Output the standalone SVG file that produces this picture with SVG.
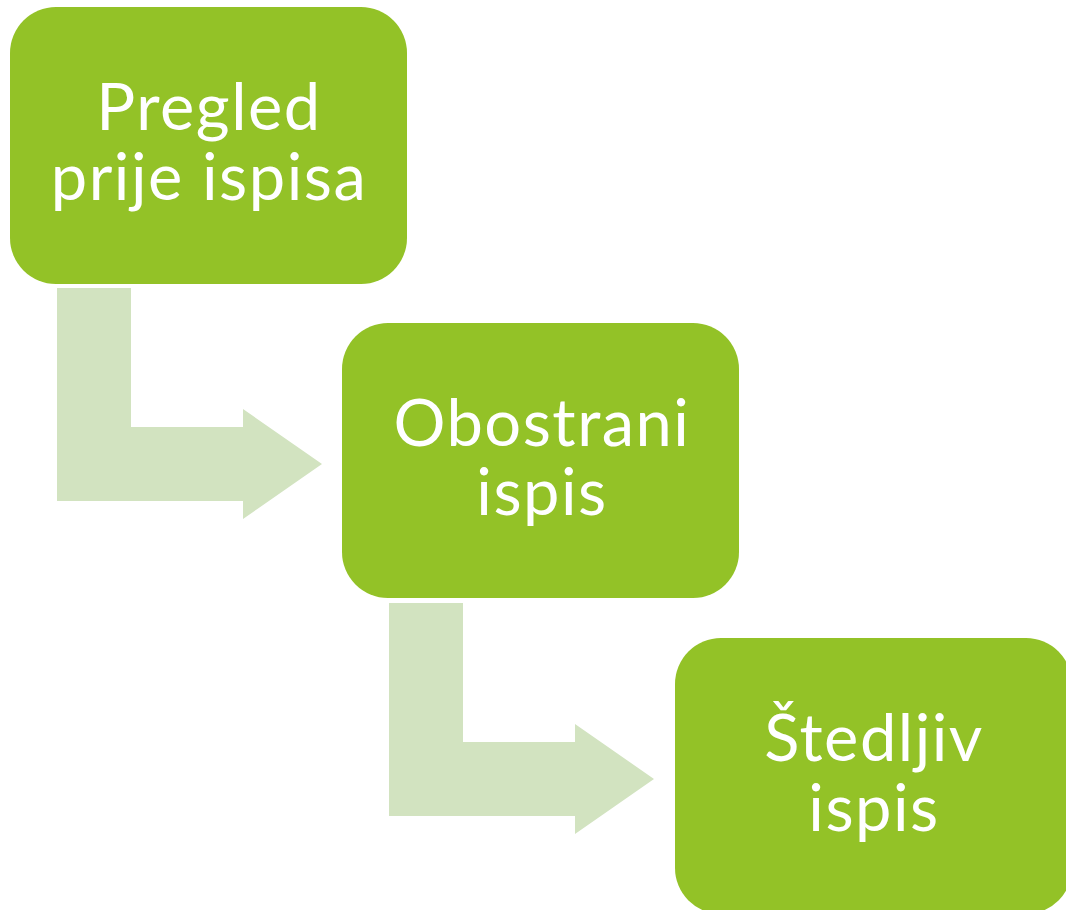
<svg xmlns="http://www.w3.org/2000/svg" width="1066" height="910" viewBox="0 0 1066 910">
<style>
.box{fill:#93C227;}
.arr{fill:#D2E3C0;}
.lbl{fill:#FFFFFF;font-family:Lato,"Open Sans","Liberation Sans",sans-serif;font-size:65px;letter-spacing:1.5px;text-anchor:middle;}
</style>
<rect width="1066" height="910" fill="#FFFFFF"/>
<g id="connectors">
<path class="arr" d="M57,288 H131 V427 H243 V409 L322,464 L243,519 V501 H57 Z"/>
<path class="arr" d="M389,603 H463 V742 H575 V724 L654,779 L575,834 V816 H389 Z"/>
</g>
<g id="node1">
<rect class="box" x="10" y="7" width="397" height="277" rx="46" ry="46"/>
<text class="lbl"><tspan x="209" y="130">Pregled</tspan><tspan x="209" y="200">prije ispisa</tspan></text>
</g>
<g id="node2">
<rect class="box" x="342" y="323" width="397" height="275" rx="46" ry="46"/>
<text class="lbl"><tspan x="542" y="446">Obostrani</tspan><tspan x="542" y="515">ispis</tspan></text>
</g>
<g id="node3">
<rect class="box" x="675" y="638" width="397" height="276" rx="46" ry="46"/>
<text class="lbl"><tspan x="874" y="761">Štedljiv</tspan><tspan x="874" y="831">ispis</tspan></text>
</g>
</svg>
